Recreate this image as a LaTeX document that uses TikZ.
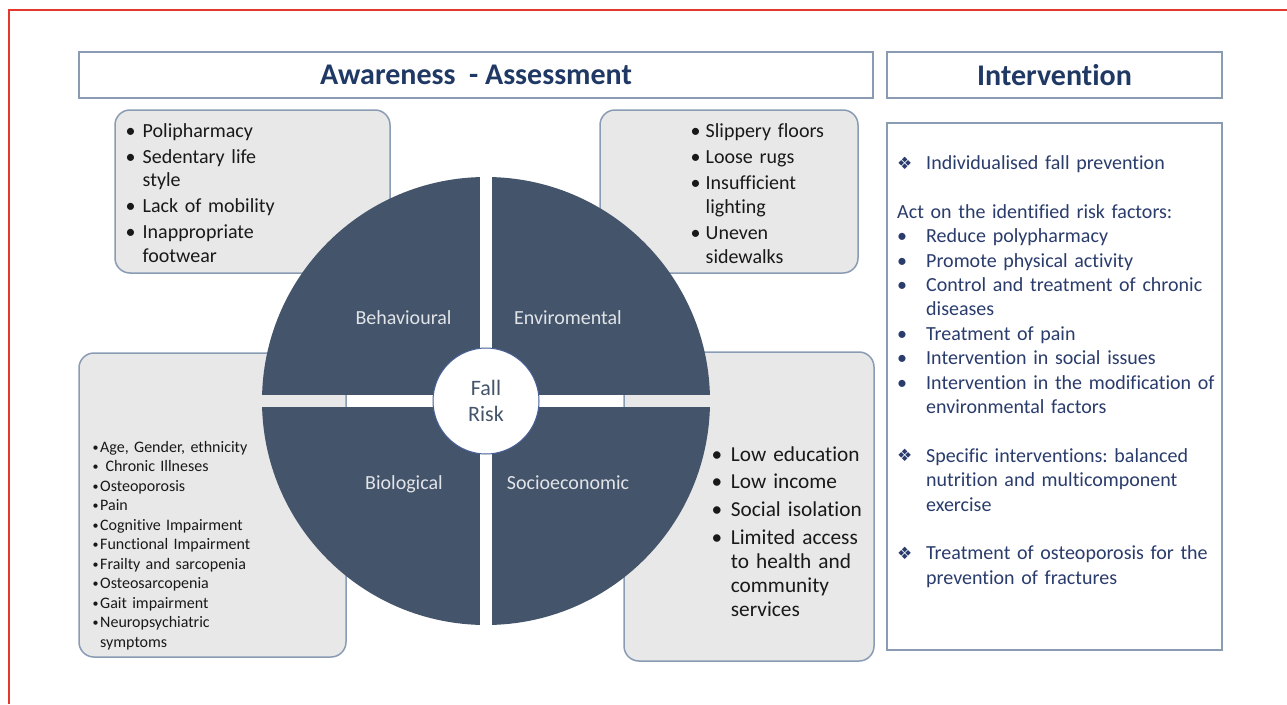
\documentclass[tikz,border=0pt]{standalone}
\usepackage{fontspec}
\setmainfont{Carlito}[Ligatures=NoCommon]
\newfontfamily\symfont{DejaVu Sans}
\frenchspacing
\definecolor{boxline}{RGB}{138,155,180}
\definecolor{boxfill}{RGB}{232,232,232}
\definecolor{piecol}{RGB}{68,84,106}
\definecolor{pietxt}{RGB}{225,228,233}
\definecolor{headcol}{RGB}{31,56,100}
\definecolor{intcol}{RGB}{42,60,108}
\definecolor{txtcol}{RGB}{25,25,25}
\definecolor{ringcol}{RGB}{70,95,150}
\definecolor{framecol}{RGB}{230,55,45}
\newcommand{\bu}[1]{\makebox[#1pt][l]{\textbullet}}
\newcommand{\sbu}{\makebox[9pt][l]{\hspace{1.5pt}\raisebox{1pt}{\fontsize{12}{12}\selectfont\textbullet}}}
\newcommand{\nb}[1]{\hspace*{#1pt}}
\newcommand{\dia}{\makebox[29pt][l]{\raisebox{0.5pt}{\symfont\fontsize{17}{17}\selectfont ❖}}}

\begin{document}
\begin{tikzpicture}[x=1pt,y=-1pt,
    headbox/.style={draw=boxline,line width=1.3pt,fill=white,text=headcol,
      font=\fontsize{30}{36}\selectfont\bfseries},
    sidebox/.style={draw=boxline,line width=1.5pt,fill=boxfill,rounded corners=15pt},
    listtxt/.style={anchor=base west,inner sep=0pt,text width=330pt,align=left,text=txtcol},
    pielabel/.style={anchor=base,text=pietxt,font=\fontsize{20}{24}\selectfont}]
    \useasboundingbox (0,0) rectangle (1287,704);
    \draw[framecol,line width=1.5pt] (9,704) -- (9,10) -- (1287,10);

    \node[headbox,minimum width=794,minimum height=46] (aware) at (476,75)   {Awareness\ \ - Assessment};
    \node[headbox,minimum width=335,minimum height=46] (interv) at (1054.5,75) {Intervention};

    \node[sidebox,minimum width=275,minimum height=163] (behbox) at (252.5,191.5) {};
    \node[sidebox,minimum width=258,minimum height=163] (envbox) at (729,191.5)   {};
    \node[sidebox,minimum width=267,minimum height=304] (biobox) at (212.5,505)   {};
    \node[sidebox,minimum width=250,minimum height=309] (socbox) at (749,506.5)   {};
    \node[draw=boxline,line width=1.5pt,fill=white,minimum width=335,minimum height=527] (intbox) at (1054.5,386.5) {};

    \begin{scope}
      \clip (486,401) circle[radius=224pt];
      \fill[piecol] (262,177) rectangle (480,395);
      \fill[piecol] (492,177) rectangle (710,395);
      \fill[piecol] (262,407) rectangle (480,625);
      \fill[piecol] (492,407) rectangle (710,625);
    \end{scope}

    \node[pielabel] (behav) at (403.5,324) {Behavioural};
    \node[pielabel] (envir) at (568,324)   {Enviromental};
    \node[pielabel] (biol)  at (404,489.3) {Biological};
    \node[pielabel] (socio) at (568,489.3) {Socioeconomic};

    \node[circle,draw=ringcol,line width=1pt,fill=white,minimum size=106,inner sep=0pt,
      align=center,text=piecol,font=\fontsize{22}{26.5}\selectfont] (fall) at (486,401) {Fall\\Risk};

    \node[listtxt,font=\fontsize{20}{23.3}\selectfont] (behtxt) at (125.5,137.5)
      {\bu{17}Polipharmacy\\[2.7pt]
       \bu{17}Sedentary life\\ \nb{17}style\\[2.7pt]
       \bu{17}Lack of mobility\\[2.7pt]
       \bu{17}Inappropriate\\ \nb{17}footwear};
    \node[listtxt,font=\fontsize{20}{24}\selectfont] (envtxt) at (690.5,137.5)
      {\bu{15}Slippery floors\\[2pt]
       \bu{15}Loose rugs\\[2pt]
       \bu{15}Insufficient\\ \nb{15}lighting\\[2pt]
       \bu{15}Uneven\\ \nb{15}sidewalks};
    \node[listtxt,font=\fontsize{16}{19.5}\selectfont] (biotxt) at (91,452)
      {\sbu Age, Gender, ethnicity\\
       \sbu\ Chronic Illneses\\
       \sbu Osteoporosis\\
       \sbu Pain\\
       \sbu Cognitive Impairment\\
       \sbu Functional Impairment\\
       \sbu Frailty and sarcopenia\\
       \sbu Osteosarcopenia\\
       \sbu Gait impairment\\
       \sbu Neuropsychiatric\\ \nb{9}symptoms};
    \node[listtxt,font=\fontsize{21.3}{24}\selectfont] (soctxt) at (711.5,461)
      {\bu{19.2}Low education\\[3.8pt]
       \bu{19.2}Low income\\[3.8pt]
       \bu{19.2}Social isolation\\[3.8pt]
       \bu{19.2}Limited access\\ \nb{19.2}to health and\\ \nb{19.2}community\\ \nb{19.2}services};

    \node[listtxt,text=intcol,font=\fontsize{20}{24.4}\selectfont] (inttxt) at (897,169.5)
      {\dia Individualised fall prevention\\[24.4pt]
       Act on the identified risk factors:\\
       \bu{29}Reduce polypharmacy\\
       \bu{29}Promote physical activity\\
       \bu{29}Control and treatment of chronic\\ \nb{29}diseases\\
       \bu{29}Treatment of pain\\
       \bu{29}Intervention in social issues\\
       \bu{29}Intervention in the modification of\\ \nb{29}environmental factors\\[24.4pt]
       \dia Specific interventions: balanced\\ \nb{29}nutrition and multicomponent\\ \nb{29}exercise\\[24.4pt]
       \dia Treatment of osteoporosis for the\\ \nb{29}prevention of fractures};
\end{tikzpicture}
\end{document}
